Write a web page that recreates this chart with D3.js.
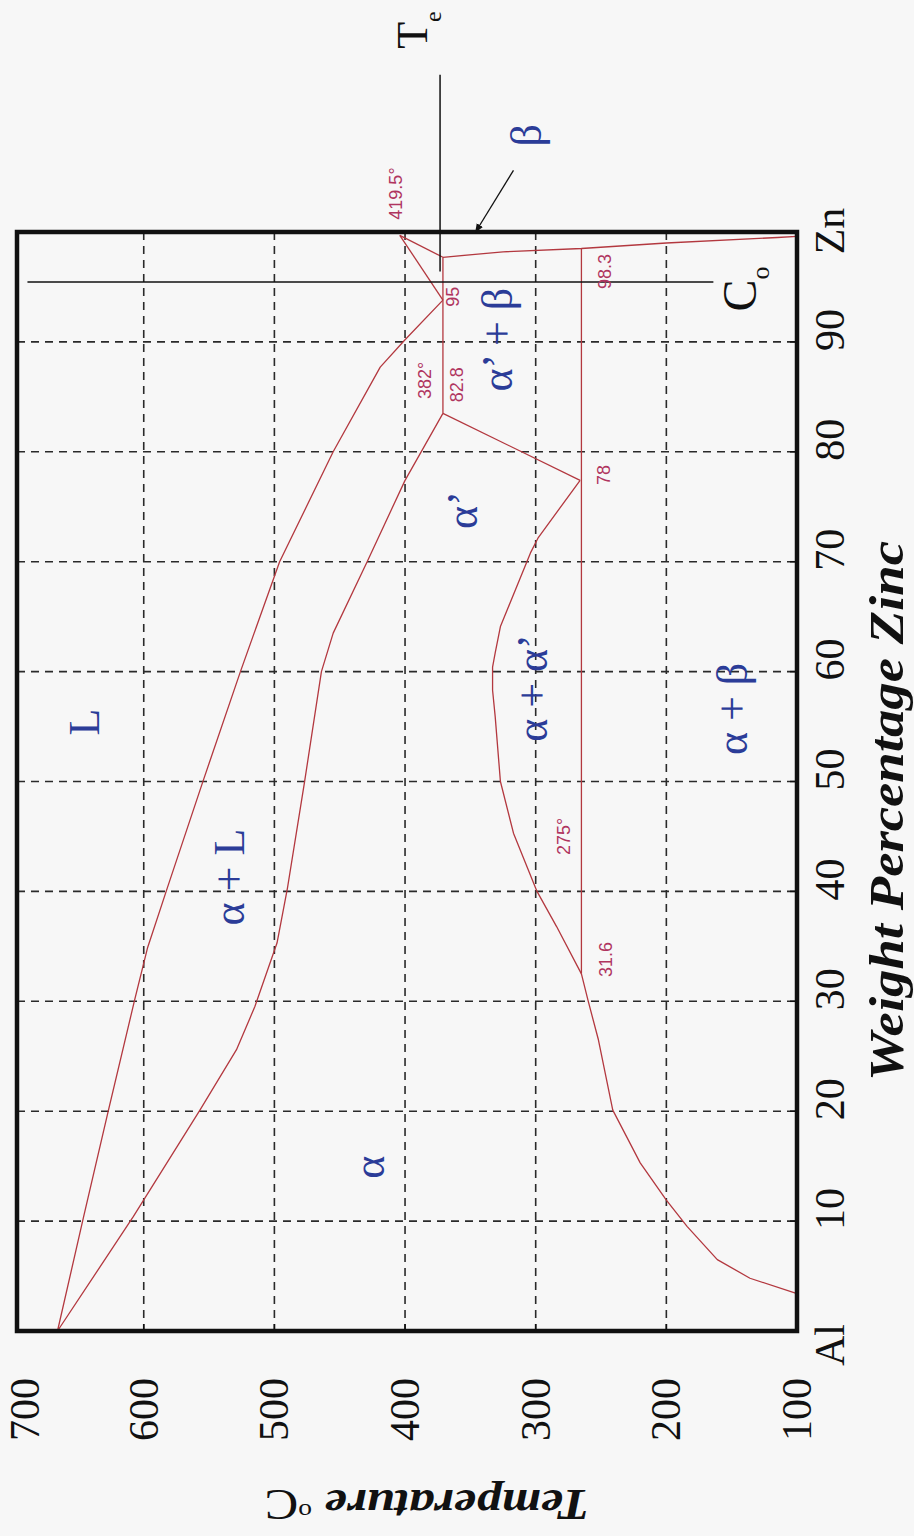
<!DOCTYPE html>
<html><head><meta charset="utf-8">
<script src="https://cdn.jsdelivr.net/npm/d3@7/dist/d3.min.js"></script>
<style>html,body{margin:0;padding:0;background:#f7f7f7}svg{display:block}</style>
</head><body>
<svg id="chart" width="914" height="1536"></svg>
<script>
// ---------- data (composition wt% Zn, temperature °C) ----------
const znTicks = [0,10,20,30,40,50,60,70,80,90,100];
const znTickLabels = ["Al","10","20","30","40","50","60","70","80","90","Zn"];
const znGrid = [10,20,30,40,50,60,70,80,90];
const tempTicks = [700,600,500,400,300,200,100];
const tempGrid = [600,500,400,300,200];
const tempExtent = [697,100];
const znExtent = [0,100];

const liquidus = [[0,666],[10.4,646],[20.1,627],[30.1,607],[34.9,597],[40.3,582],[49.9,555],[60,526],[70,496],[80,455],[87.7,419],[90.2,400],[93.8,371]];
const liquidusZn = [[93.8,371],[99.7,404]];
const solidus = [[0,666],[10.4,608],[20.1,557],[25.6,529],[29.5,515],[35.3,498],[40.3,490],[49.9,477],[60,464],[63.5,455],[70,429],[77.4,400],[83.5,371]];
const eutectic = [[83.5,371],[97.7,371]];
const betaSolidus = [[99.7,404],[97.7,371]];
const betaSolvus = [[97.7,371],[98.2,325],[98.5,265],[99.0,200],[99.5,115],[99.6,100]];
const monotectoid = [[83.5,371],[77.4,266]];
const eutectoid = [[32.5,265],[98.5,265]];
const gapDome = [[77.4,266],[72.2,298],[70.8,304],[64.1,327],[61.7,331],[60.4,333],[58.3,333],[55.9,331],[50,327],[45.3,317],[40,299],[36.8,284],[32.5,265]];
const alphaSolvus = [[32.5,265],[30.1,260],[26.5,252],[20.1,241],[15.3,220],[11.9,200],[9.5,184],[6.5,161],[4.8,136],[3.4,100]];

const pointLabels = [
  {text:"419.5°", zn:103.5, t:407},
  {text:"95", zn:94.1, t:363},
  {text:"382°", zn:86.5, t:385},
  {text:"82.8", zn:86.1, t:360},
  {text:"98.3", zn:96.4, t:247},
  {text:"78", zn:77.9, t:248},
  {text:"275°", zn:45.0, t:278},
  {text:"31.6", zn:33.8, t:246}
];
const phaseLabels = [
  {text:"L", zn:55.4, t:645},
  {text:"α + L", zn:41.3, t:534},
  {text:"α", zn:14.9, t:427},
  {text:"α’", zn:74.7, t:356},
  {text:"α’ + β", zn:90.2, t:329},
  {text:"α + α’", zn:58.5, t:302},
  {text:"α + β", zn:56.6, t:149},
  {text:"β", zn:108.8, t:307}
];
const compositionC0 = 95.45;          // C_o line
const c0Range = [689,164];
const eutecticTe = 373.2;             // T_e line
const teRange = [96.4,114.3];
const arrowFrom = [105.6,317];
const arrowTo = [100.0,346];

// ---------- scales ----------
const svg = d3.select("#chart");
const x = d3.scaleLinear().domain(tempExtent).range([17,797]);   // temperature -> horizontal
const y = d3.scaleLinear().domain(znExtent).range([1331,232]);   // composition -> vertical

svg.append("rect").attr("width",914).attr("height",1536).attr("fill","#f7f7f7");

const g = svg.append("g");

// grid
g.selectAll(".gt").data(tempGrid).enter().append("line")
  .attr("x1",d=>x(d)).attr("x2",d=>x(d)).attr("y1",y(100)).attr("y2",y(0))
  .attr("stroke","#2a2a2a").attr("stroke-width",1.6).attr("stroke-dasharray","8,6");
g.selectAll(".gz").data(znGrid).enter().append("line")
  .attr("x1",x(tempExtent[0])).attr("x2",x(100)).attr("y1",d=>y(d)).attr("y2",d=>y(d))
  .attr("stroke","#2a2a2a").attr("stroke-width",1.6).attr("stroke-dasharray","8,6");

// phase boundaries
const line = d3.line().x(d=>x(d[1])).y(d=>y(d[0]));
const red = "#b3383f";
[liquidus, liquidusZn, solidus, eutectic, betaSolidus, betaSolvus, monotectoid, eutectoid, gapDome, alphaSolvus]
  .forEach(s => g.append("path").attr("d", line(s)).attr("fill","none")
     .attr("stroke",red).attr("stroke-width",1.3).attr("stroke-linejoin","round"));

// frame
g.append("rect").attr("x",x(tempExtent[0])).attr("y",y(100))
  .attr("width",x(100)-x(tempExtent[0])).attr("height",y(0)-y(100))
  .attr("fill","none").attr("stroke","#111").attr("stroke-width",4.5);

// inward ticks
g.selectAll(".tz").data(znGrid).enter().append("line")
  .attr("x1",x(100)).attr("x2",x(100)-7).attr("y1",d=>y(d)).attr("y2",d=>y(d))
  .attr("stroke","#111").attr("stroke-width",1.5);
g.selectAll(".tt").data(tempGrid).enter().append("line")
  .attr("x1",d=>x(d)).attr("x2",d=>x(d)).attr("y1",y(0)).attr("y2",y(0)-7)
  .attr("stroke","#111").attr("stroke-width",1.5);

// annotation lines
g.append("line").attr("x1",x(c0Range[0])).attr("x2",x(c0Range[1]))
  .attr("y1",y(compositionC0)).attr("y2",y(compositionC0))
  .attr("stroke","#111").attr("stroke-width",1.5);
g.append("line").attr("x1",x(eutecticTe)).attr("x2",x(eutecticTe))
  .attr("y1",y(teRange[0])).attr("y2",y(teRange[1]))
  .attr("stroke","#111").attr("stroke-width",1.5);

svg.append("defs").append("marker").attr("id","ah").attr("viewBox","0 0 10 10")
  .attr("refX",9).attr("refY",5).attr("markerWidth",9).attr("markerHeight",9)
  .attr("orient","auto").attr("markerUnits","userSpaceOnUse")
  .append("path").attr("d","M0,1 L10,5 L0,9 Z").attr("fill","#111");
g.append("line").attr("x1",x(arrowFrom[1])).attr("y1",y(arrowFrom[0]))
  .attr("x2",x(arrowTo[1])).attr("y2",y(arrowTo[0]))
  .attr("stroke","#111").attr("stroke-width",1.3).attr("marker-end","url(#ah)");

// rotated text helper: text reads bottom-to-top
function rtext(px, py, txt, size, opts={}) {
  const t = g.append("text")
    .attr("transform",`translate(${px},${py}) rotate(${opts.rot ?? -90})`)
    .attr("text-anchor", opts.anchor || "middle")
    .attr("font-family", opts.family || "'Liberation Serif','Times New Roman',serif")
    .attr("font-size", size)
    .attr("fill", opts.fill || "#111");
  if (opts.weight) t.attr("font-weight", opts.weight);
  if (opts.style) t.attr("font-style", opts.style);
  t.text(txt);
  return t;
}

// point labels (red)
pointLabels.forEach(d => rtext(x(d.t)+6, y(d.zn), d.text, 18,
  {family:"'Liberation Sans',Arial,sans-serif", fill:"#b0355f"}));

// phase labels (blue)
phaseLabels.forEach(d => rtext(x(d.t)+14, y(d.zn), d.text, 44, {fill:"#2b3c98"}));

// temperature tick labels
tempTicks.forEach(t => rtext(Math.max(x(t),25)+14, 1378, String(t), 42, {anchor:"end"}));

// composition tick labels
znTicks.forEach((v,i) => {
  const off = v===0 ? 14 : (v===100 ? -1 : -12);
  rtext(844, y(v)+off, znTickLabels[i], 42);
});

// axis titles
rtext(903, 811, "Weight Percentage Zinc", 48, {weight:"bold", style:"italic"})
  .attr("textLength",540).attr("lengthAdjust","spacingAndGlyphs");
const tt = g.append("text")
  .attr("transform","translate(427,1490) rotate(180)")
  .attr("text-anchor","middle")
  .attr("font-family","'Liberation Serif','Times New Roman',serif")
  .attr("font-size",44).attr("fill","#111")
  .attr("textLength",325).attr("lengthAdjust","spacingAndGlyphs");
tt.append("tspan").attr("font-weight","bold").attr("font-style","italic").text("Temperature ");
tt.append("tspan").attr("font-size",24).attr("dy",-14).text("o");
tt.append("tspan").attr("dy",14).text("C");

// C_o and T_e labels
const co = g.append("text").attr("transform",`translate(756,289) rotate(-90)`)
  .attr("text-anchor","middle").attr("font-family","'Liberation Serif',serif")
  .attr("font-size",48).attr("fill","#111");
co.append("tspan").text("C");
co.append("tspan").attr("font-size",26).attr("dy",13).text("o");
const te = g.append("text").attr("transform",`translate(427,30) rotate(-90)`)
  .attr("text-anchor","middle").attr("font-family","'Liberation Serif',serif")
  .attr("font-size",44).attr("fill","#111");
te.append("tspan").text("T");
te.append("tspan").attr("font-size",24).attr("dy",14).text("e");
</script>
</body></html>
